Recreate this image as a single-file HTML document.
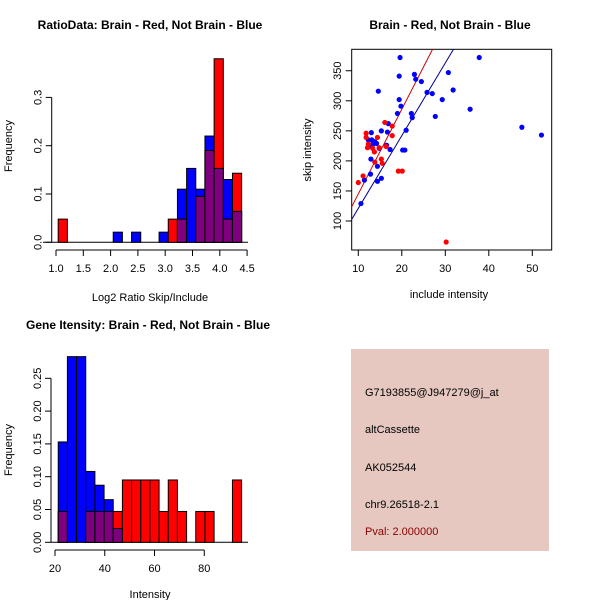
<!DOCTYPE html>
<html><head><meta charset="utf-8"><style>
body{margin:0;background:#fff}
svg{display:block;font-family:"Liberation Sans",sans-serif}
</style></head><body>
<svg id="c" width="600" height="600" viewBox="0 0 600 600">
<rect width="600" height="600" fill="#fff"/>
<g id="tl"></g>
<g id="tr"></g>
<g id="bl"></g>
<g>
<rect x="351" y="349" width="198" height="202" fill="#e6c8c1"/>
<text x="365" y="396" font-size="11" fill="#000">G7193855@J947279@j_at</text>
<text x="365" y="433" font-size="11" fill="#000">altCassette</text>
<text x="365" y="471" font-size="11" fill="#000">AK052544</text>
<text x="365" y="508" font-size="11" fill="#000">chr9.26518-2.1</text>
<text x="365" y="535" font-size="11" fill="#8b0000">Pval: 2.000000</text>
</g>
</svg>
<script>
// ratio histogram data
const ratioBinStart = 1.04;
const ratioBinWidth = 0.168;
const ratioBlue = [0,0,0,0,0,0,0.021,0,0.021,0,0,0.021,0,0.11,0.153,0.11,0.22,0.153,0.13,0.064];
const ratioRed  = [0.048,0,0,0,0,0,0,0,0,0,0,0,0.048,0.048,0,0.095,0.19,0.38,0.048,0.143];
const ratioXTicks = [1.0,1.5,2.0,2.5,3.0,3.5,4.0,4.5];
const ratioYTicks = [0,0.1,0.2,0.3];
// gene intensity histogram data
const geneBinStart = 21.3;
const geneBinWidth = 3.685;
const geneBlue = [0.153,0.283,0.283,0.108,0.087,0.065,0.021,0,0,0,0,0,0,0,0,0,0,0,0,0];
const geneRed  = [0.047,0,0,0.047,0.047,0.047,0.047,0.095,0.095,0.095,0.095,0.047,0.095,0.047,0,0.047,0.047,0,0,0.095];
const geneXTicks = [20,40,60,80];
const geneYTicks = [0,0.05,0.10,0.15,0.20,0.25];
// scatter data
const blueX = [19.6,37.8,19.4,22.9,30.7,23.2,24.5,14.6,31.8,25.8,27.0,19.4,29.3,19.8,35.7,19,22.2,22.4,27.7,47.6,52.1,21,15.3,16.7,16.9,13,17.3,14.8,20.2,20.7,13.8,12.3,13.1,12.5,13.4,14.2,12.9,14.4,12.8,15.3,14.4,11.4,10.6,16.5];
const blueY = [372,372,341,344,347,336,332,316,318,314,312,302,302,291,286,279,279,272,274,256,243,251,250,248,262,247,219,221,218,218,232,235,235,224,228,229,203,191,178,171,166,168,129,226];
const redX = [10,11.1,11.8,11.8,12.3,14.4,16.1,17.8,17.8,13.3,13.7,13.8,15.3,15.5,16.4,14.8,19.2,20.1,30.2,12.1];
const redY = [164,175,246,239,228,239,264,258,242,221,215,198,203,196,224,222,183,183,65,222];
const redFit = [4, 14.1];
const blueFit = [0, 12.1];
const scatXTicks = [10,20,30,40,50];
const scatYTicks = [100,150,200,250,300,350];

const NS = "http://www.w3.org/2000/svg";
function mk(parent, tag, attrs, txt){
  const e = document.createElementNS(NS, tag);
  for (const k in attrs) e.setAttribute(k, attrs[k]);
  if (txt !== undefined) e.textContent = txt;
  parent.appendChild(e);
  return e;
}
const STROKE = "#000";

function histogram(g, o){
  const sx = v => o.x0 + (v - o.xmin) * o.xs;
  const sy = v => o.y0 - v * o.ys;
  // baseline
  const bl = mk(g,'line',{x1:o.blx1,x2:o.blx2,y1:o.y0,y2:o.y0,stroke:STROKE});
  
  
  for (let i=0;i<o.blue.length;i++){
    const a = sx(o.start + i*o.w), b = sx(o.start + (i+1)*o.w);
    const bv = o.blue[i], rv = o.red[i];
    if (bv>0){
      const r = mk(g,'rect',{x:a,y:sy(bv),width:b-a,height:sy(0)-sy(bv),fill:'#0000ff',stroke:STROKE,'stroke-width':1});
      
      
    }
    if (rv>0){
      const r = mk(g,'rect',{x:a,y:sy(rv),width:b-a,height:sy(0)-sy(rv),fill:'#ff0000',stroke:STROKE,'stroke-width':1});
      
      
    }
    const m = Math.min(bv,rv);
    if (m>0){
      const r = mk(g,'rect',{x:a,y:sy(m),width:b-a,height:sy(0)-sy(m),fill:'#7f007f',stroke:STROKE,'stroke-width':1});
      
      
    }
  }
  // x axis
  const xt = o.xticks;
  const xa = mk(g,'line',{x1:sx(xt[0]),x2:sx(xt[xt.length-1]),y1:o.xay,y2:o.xay,stroke:STROKE});
  
  
  xt.forEach(t=>{
    mk(g,'line',{x1:sx(t),x2:sx(t),y1:o.xay,y2:o.xay+6,stroke:STROKE});
    const tx = mk(g,'text',{x:sx(t),y:o.xay+22,'font-size':11,'text-anchor':'middle'}, o.xfmt(t));
    
    
  });
  // y axis
  const yt = o.yticks;
  const ya = mk(g,'line',{x1:o.yax,x2:o.yax,y1:sy(yt[0]),y2:sy(yt[yt.length-1]),stroke:STROKE});
  
  
  yt.forEach(t=>{
    mk(g,'line',{x1:o.yax-6,x2:o.yax,y1:sy(t),y2:sy(t),stroke:STROKE});
    const tx = mk(g,'text',{x:0,y:0,'font-size':11,'text-anchor':'middle',transform:`translate(${o.yax-10},${sy(t)}) rotate(-90)`}, o.yfmt(t));
    
    
  });
  const ti = mk(g,'text',{x:o.titleX,y:o.titleY,'font-size':12,'font-weight':'bold','text-anchor':'middle'}, o.title);
  
  
  const xl = mk(g,'text',{x:o.xlabX,y:o.xlabY,'font-size':11,'text-anchor':'middle'}, o.xlab);
  
  
  const yl = mk(g,'text',{x:0,y:0,'font-size':11,'text-anchor':'middle',transform:`translate(12,${o.ylabY}) rotate(-90)`}, 'Frequency');
  
  
}

histogram(document.getElementById('tl'), {
  x0:56, xmin:1.0, xs:54.6, y0:242.3, ys:483,
  start:ratioBinStart, w:ratioBinWidth, blue:ratioBlue, red:ratioRed,
  blx1:43, blx2:248, xticks:ratioXTicks, yticks:ratioYTicks, xay:250, yax:51.7,
  xfmt:t=>t.toFixed(1), yfmt:t=>t.toFixed(1),
  title:'RatioData: Brain - Red, Not Brain - Blue', titleX:150, titleY:29,
  xlab:'Log2 Ratio Skip/Include', xlabX:150, xlabY:301, ylabY:146
});
histogram(document.getElementById('bl'), {
  x0:55, xmin:20, xs:2.488, y0:542.3, ys:656,
  start:geneBinStart, w:geneBinWidth, blue:geneBlue, red:geneRed,
  blx1:51, blx2:248, xticks:geneXTicks, yticks:geneYTicks, xay:550, yax:51,
  xfmt:t=>String(t), yfmt:t=>t.toFixed(2),
  title:'Gene Itensity: Brain - Red, Not Brain - Blue', titleX:148, titleY:329,
  xlab:'Intensity', xlabX:150, xlabY:598, ylabY:450
});

// scatter
(function(){
  const g = document.getElementById('tr');
  const sx = v => 358.3 + (v-10)*4.35;
  const sy = v => 221 - (v-100)*0.601;
  const box = mk(g,'rect',{x:351.7,y:49.3,width:200,height:200.7,fill:'none',stroke:STROKE});
  
  
  mk(g,'defs',{}).innerHTML = '<clipPath id="cp"><rect x="351.7" y="49.3" width="200" height="200.7"/></clipPath>';
  scatXTicks.forEach(t=>{
    mk(g,'line',{x1:sx(t),x2:sx(t),y1:250,y2:256,stroke:STROKE});
    const tx = mk(g,'text',{x:sx(t),y:272,'font-size':11,'text-anchor':'middle'}, String(t));
    
    
  });
  scatYTicks.forEach(t=>{
    mk(g,'line',{x1:345.7,x2:351.7,y1:sy(t),y2:sy(t),stroke:STROKE});
    const tx = mk(g,'text',{x:0,y:0,'font-size':11,'text-anchor':'middle',transform:`translate(341,${sy(t)}) rotate(-90)`}, String(t));
    
    
  });
  const lg = mk(g,'g',{'clip-path':'url(#cp)'});
  const x1=5, x2=60;
  const rl = mk(lg,'line',{x1:sx(x1),x2:sx(x2),y1:sy(redFit[0]+redFit[1]*x1),y2:sy(redFit[0]+redFit[1]*x2),stroke:'#cc0000'});
  
  
  const bln = mk(lg,'line',{x1:sx(x1),x2:sx(x2),y1:sy(blueFit[0]+blueFit[1]*x1),y2:sy(blueFit[0]+blueFit[1]*x2),stroke:'#00008b'});
  
  
  blueX.forEach((x,i)=>{
    const c = mk(g,'circle',{cx:sx(x),cy:sy(blueY[i]),r:2.6,fill:'#0000ff'});
    
    
  });
  redX.forEach((x,i)=>{
    const c = mk(g,'circle',{cx:sx(x),cy:sy(redY[i]),r:2.6,fill:'#ff0000'});
    
    
  });
  const ti = mk(g,'text',{x:450,y:29,'font-size':12,'font-weight':'bold','text-anchor':'middle'}, 'Brain - Red, Not Brain - Blue');
  
  
  const xl = mk(g,'text',{x:449,y:298,'font-size':11,'text-anchor':'middle'}, 'include intensity');
  
  
  const yl = mk(g,'text',{x:0,y:0,'font-size':11,'text-anchor':'middle',transform:'translate(311,150) rotate(-90)'}, 'skip intensity');
  
  
})();
</script>
</body></html>
